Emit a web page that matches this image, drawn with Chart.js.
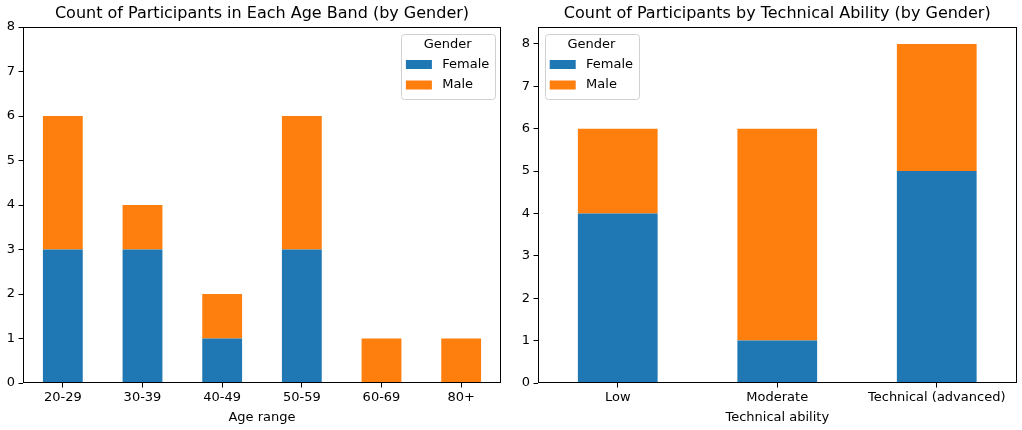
<!DOCTYPE html>
<html><head><meta charset="utf-8">
<script src="https://cdn.jsdelivr.net/npm/chart.js@4/dist/chart.umd.min.js"></script>
<style>
html,body{margin:0;padding:0;background:#fff;}
#wrap{position:relative;width:1022px;height:430px;overflow:hidden;}
.panel{position:absolute;top:0;height:430px;width:511px;}
</style></head><body>
<div id="wrap">
<div class="panel" style="left:0"><canvas id="c1"></canvas></div>
<div class="panel" style="left:511px"><canvas id="c2"></canvas></div>
</div>
<script>
// ---- data ----
const ageBands = ['20-29', '30-39', '40-49', '50-59', '60-69', '80+'];
const ageFemale = [3, 3, 1, 3, 0, 0];
const ageMale = [3, 1, 1, 3, 1, 1];
const abilityLevels = ['Low', 'Moderate', 'Technical (advanced)'];
const abilityFemale = [4, 1, 5];
const abilityMale = [2, 5, 3];
const genderLabels = ['Female', 'Male'];
const legendTitle = 'Gender';
const leftTitle = 'Count of Participants in Each Age Band (by Gender)';
const rightTitle = 'Count of Participants by Technical Ability (by Gender)';
const leftXTitle = 'Age range';
const rightXTitle = 'Technical ability';
const leftYMax = 8;
const rightYMax = 8.4;

const FONT = "'DejaVu Sans', sans-serif";
const BLUE = '#1f77b4', ORANGE = '#ff7f0e';

const spines = {
  id: 'spines',
  afterDraw(chart) {
    const a = chart.chartArea, ctx = chart.ctx;
    ctx.save();
    ctx.strokeStyle = '#000';
    ctx.lineWidth = 1;
    const l = Math.round(a.left) + 0.5, r = Math.round(a.right) - 0.5;
    const t = Math.round(a.top) + 0.5, b = Math.round(a.bottom) - 0.5;
    ctx.strokeRect(l, t, r - l, b - t);
    ctx.restore();
  }
};

const mplLegend = {
  id: 'mplLegend',
  afterDraw(chart, args, opts) {
    const a = chart.chartArea, ctx = chart.ctx;
    const fs = 13;
    ctx.save();
    ctx.font = fs + 'px ' + FONT;
    const items = chart.data.datasets.map(d => ({label: d.label, color: d.backgroundColor}));
    const tw = Math.max(...items.map(i => ctx.measureText(i.label).width));
    const w = 5.2 + 26 + 10.4 + tw + 5.2;
    const h = 65;
    const x = opts.side === 'right' ? a.right - 6.5 - w : a.left + 6.5;
    const y = a.top + 6.5;
    ctx.fillStyle = 'rgba(255,255,255,0.8)';
    ctx.strokeStyle = '#d0d0d0';
    ctx.lineWidth = 1;
    ctx.beginPath();
    ctx.roundRect(Math.round(x) + 0.5, Math.round(y) + 0.5, Math.round(w), Math.round(h), 3);
    ctx.fill();
    ctx.stroke();
    ctx.fillStyle = '#000';
    ctx.textBaseline = 'middle';
    ctx.textAlign = 'center';
    ctx.fillText(legendTitle, x + w / 2, y + 11);
    ctx.textAlign = 'left';
    items.forEach((it, i) => {
      const cy = y + 31 + i * 20.5;
      ctx.fillStyle = it.color;
      ctx.fillRect(x + 5.2, cy - 4.5, 26, 9);
      ctx.fillStyle = '#000';
      ctx.fillText(it.label, x + 41.6, cy);
    });
    ctx.restore();
  }
};

function makeChart(id, labels, fem, male, title, xTitle, yMax, side, yWidth, padRight) {
  return new Chart(document.getElementById(id), {
    type: 'bar',
    data: {
      labels: labels,
      datasets: [
        {label: genderLabels[0], data: fem, backgroundColor: BLUE, borderWidth: 0, categoryPercentage: 1, barPercentage: 0.5},
        {label: genderLabels[1], data: male, backgroundColor: ORANGE, borderWidth: 0, categoryPercentage: 1, barPercentage: 0.5}
      ]
    },
    options: {
      responsive: true,
      maintainAspectRatio: false,
      animation: false,
      devicePixelRatio: 1,
      layout: {padding: {left: 0, right: padRight, top: 0, bottom: 0}},
      plugins: {
        legend: {display: false},
        tooltip: {enabled: false},
        title: {
          display: true, text: title, fullSize: false, color: '#000',
          font: {family: FONT, size: 16, weight: 'normal', lineHeight: 1.2},
          padding: {top: 4, bottom: 3.8}
        },
        mplLegend: {side: side}
      },
      scales: {
        x: {
          stacked: true,
          offset: true,
          border: {display: false},
          grid: {display: true, offset: false, drawOnChartArea: false, drawTicks: true, tickLength: 4.5, color: '#000', lineWidth: 1},
          ticks: {color: '#000', font: {family: FONT, size: 13}, padding: 2, maxRotation: 0, autoSkip: false},
          title: {display: true, text: xTitle, color: '#000', font: {family: FONT, size: 13}, padding: {top: 0, bottom: 5}},
          afterFit(s) { s.height = 47; }
        },
        y: {
          stacked: true,
          min: 0,
          max: yMax,
          border: {display: false},
          grid: {display: true, drawOnChartArea: false, drawTicks: true, tickLength: 4.5, color: '#000', lineWidth: 1},
          ticks: {stepSize: 1, includeBounds: false, color: '#000', font: {family: FONT, size: 13}, padding: 3.5},
          afterBuildTicks(s) { s.ticks = s.ticks.filter(t => Number.isInteger(t.value)); },
          afterFit(s) { s.width = yWidth; }
        }
      }
    },
    plugins: [spines, mplLegend]
  });
}

makeChart('c1', ageBands, ageFemale, ageMale, leftTitle, leftXTitle, leftYMax, 'right', 23, 10);
makeChart('c2', abilityLevels, abilityFemale, abilityMale, rightTitle, rightXTitle, rightYMax, 'left', 27, 5.5);
</script>
</body></html>
